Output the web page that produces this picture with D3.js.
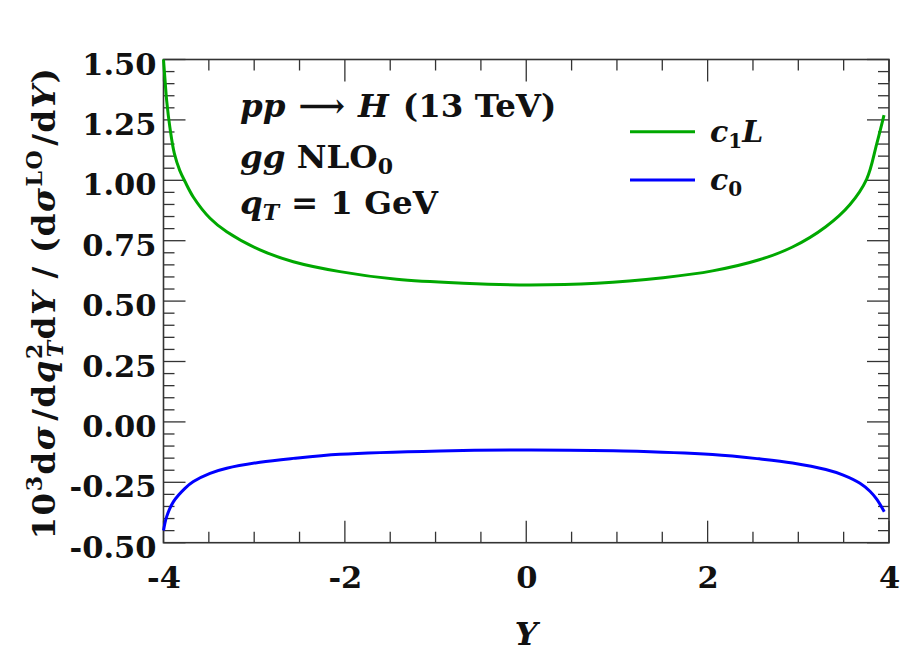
<!DOCTYPE html>
<html><head><meta charset="utf-8">
<script src="https://cdn.jsdelivr.net/npm/d3@7"></script>
<style>html,body{margin:0;padding:0;background:#fff;}svg{display:block;}</style>
</head><body>
<script>
// ---- data ----
const seriesNames = ["c1L", "c0"];
const yC1L = [-4.0, -3.98, -3.965, -3.93, -3.88, -3.82, -3.763, -3.67, -3.487, -3.303, -2.936, -2.569, -2.054, -1.43, -0.694, 0.04, 0.777, 1.51, 2.054, 2.569, 2.936, 3.303, 3.57, 3.754, 3.864, 3.945];
const valC1L = [1.50, 1.40, 1.33, 1.22, 1.11, 1.04, 0.995, 0.93, 0.843, 0.787, 0.712, 0.663, 0.622, 0.590, 0.574, 0.567, 0.574, 0.597, 0.625, 0.671, 0.724, 0.808, 0.900, 1.005, 1.15, 1.27];
const yC0 = [-4.0, -3.965, -3.89, -3.763, -3.67, -3.487, -3.303, -2.936, -2.569, -2.054, -0.951, 0.041, 1.07, 2.054, 2.569, 2.936, 3.303, 3.496, 3.68, 3.79, 3.864, 3.948];
const valC0 = [-0.45, -0.392, -0.330, -0.275, -0.247, -0.213, -0.192, -0.167, -0.151, -0.134, -0.120, -0.116, -0.120, -0.135, -0.153, -0.170, -0.197, -0.220, -0.254, -0.287, -0.320, -0.372];
const xTickValues = [-4, -2, 0, 2, 4];
const xTickLabels = ["-4", "-2", "0", "2", "4"];
const yTickValues = [-0.5, -0.25, 0, 0.25, 0.5, 0.75, 1.0, 1.25, 1.5];
const yTickLabels = ["-0.50", "-0.25", "0.00", "0.25", "0.50", "0.75", "1.00", "1.25", "1.50"];

// ---- layout ----
const W = 900, H = 665;
const m = {left: 163.5, right: 889, top: 59.5, bottom: 542.7};
const FONT = "'DejaVu Serif', serif";
const svg = d3.select("body").append("svg").attr("width", W).attr("height", H);

const x = d3.scaleLinear().domain([-4, 4]).range([m.left, m.right]);
const y = d3.scaleLinear().domain([-0.5, 1.5]).range([m.bottom, m.top]);

const axisColor = "#333";
const majorLen = 22, minorLen = 11;
const minorX = d3.range(-4, 4.001, 0.5);
const minorY = d3.range(-0.5, 1.5001, 0.05);

const ticksG = svg.append("g").attr("stroke", axisColor).attr("stroke-width", 1.3);
minorX.forEach(v => {
  const isMajor = Math.abs(v/2 - Math.round(v/2)) < 1e-6;
  const L = isMajor ? majorLen : minorLen;
  ticksG.append("line").attr("x1", x(v)).attr("x2", x(v)).attr("y1", m.bottom).attr("y2", m.bottom - L);
  ticksG.append("line").attr("x1", x(v)).attr("x2", x(v)).attr("y1", m.top).attr("y2", m.top + L);
});
minorY.forEach(v => {
  const isMajor = Math.abs(v/0.25 - Math.round(v/0.25)) < 1e-6;
  const L = isMajor ? majorLen : minorLen;
  ticksG.append("line").attr("y1", y(v)).attr("y2", y(v)).attr("x1", m.left).attr("x2", m.left + L);
  ticksG.append("line").attr("y1", y(v)).attr("y2", y(v)).attr("x1", m.right).attr("x2", m.right - L);
});

const xAxis = d3.axisBottom(x).tickValues(xTickValues).tickSize(0).tickPadding(24)
  .tickFormat((d, i) => xTickLabels[i]);
const gx = svg.append("g").attr("transform", `translate(0,${m.bottom})`).call(xAxis);
const yAxis = d3.axisLeft(y).tickValues(yTickValues).tickSize(0).tickPadding(7)
  .tickFormat((d, i) => yTickLabels[i]);
const gy = svg.append("g").attr("transform", `translate(${m.left},0)`).call(yAxis);
[gx, gy].forEach(g => {
  g.select(".domain").remove();
  g.selectAll("text").attr("font-family", FONT).attr("font-weight", "bold").attr("font-size", 30.5).attr("fill", "#111");
});
gy.selectAll("text").attr("dy", "0.48em");

svg.append("rect").attr("x", m.left).attr("y", m.top).attr("width", m.right - m.left).attr("height", m.bottom - m.top)
  .attr("fill", "none").attr("stroke", axisColor).attr("stroke-width", 1.6);

const line = d3.line().x(d => x(d[0])).y(d => y(d[1])).curve(d3.curveCatmullRom.alpha(0.5));
const green = "#00a800", blue = "#0000ff";
svg.append("path").datum(yC1L.map((v, i) => [v, valC1L[i]])).attr("d", line)
  .attr("fill", "none").attr("stroke", green).attr("stroke-width", 3);
svg.append("path").datum(yC0.map((v, i) => [v, valC0[i]])).attr("d", line)
  .attr("fill", "none").attr("stroke", blue).attr("stroke-width", 3);

// annotation text
const ann = svg.append("g").attr("font-family", FONT).attr("font-weight", "bold").attr("font-size", 32.5).attr("fill", "#111");
const t1 = ann.append("text").attr("x", 240).attr("y", 117);
t1.append("tspan").attr("font-style", "italic").text("pp");
t1.append("tspan").attr("dx", 13).text("⟶");
t1.append("tspan").attr("dx", 13).attr("font-style", "italic").text("H");
t1.append("tspan").attr("dx", 14).text("(13 TeV)");
const t2 = ann.append("text").attr("x", 240).attr("y", 168);
t2.append("tspan").attr("font-style", "italic").text("gg");
t2.append("tspan").text(" NLO");
t2.append("tspan").attr("font-size", 22).attr("dy", 6).text("0");
const t3 = ann.append("text").attr("x", 240).attr("y", 214);
t3.append("tspan").attr("font-style", "italic").text("q");
t3.append("tspan").attr("font-style", "italic").attr("font-size", 22).attr("dy", 6).text("T");
t3.append("tspan").attr("dy", -6).attr("dx", 12).text("=");
t3.append("tspan").attr("dx", 12).text("1 GeV");

// legend
const legend = [{name: seriesNames[0], color: green, yy: 131.7}, {name: seriesNames[1], color: blue, yy: 180}];
legend.forEach(l => {
  svg.append("line").attr("x1", 630).attr("x2", 695).attr("y1", l.yy).attr("y2", l.yy)
    .attr("stroke", l.color).attr("stroke-width", 3);
});
const lg = svg.append("g").attr("font-family", FONT).attr("font-weight", "bold").attr("font-size", 30).attr("fill", "#111");
const lg1 = lg.append("text").attr("x", 710).attr("y", 142);
lg1.append("tspan").attr("font-style", "italic").text("c");
lg1.append("tspan").attr("font-size", 20).attr("dy", 6).text("1");
lg1.append("tspan").attr("font-style", "italic").attr("dy", -6).text("L");
const lg2 = lg.append("text").attr("x", 710).attr("y", 190);
lg2.append("tspan").attr("font-style", "italic").text("c");
lg2.append("tspan").attr("font-size", 20).attr("dy", 6).text("0");

// axis titles
svg.append("text").attr("x", (m.left + m.right) / 2).attr("y", 645).attr("text-anchor", "middle")
  .attr("font-family", FONT).attr("font-weight", "bold").attr("font-style", "italic").attr("font-size", 32).attr("fill", "#111")
  .text("Y");

const yt = svg.append("text").attr("transform", `translate(55,${(m.top + m.bottom) / 2 + 2}) rotate(-90)`)
  .attr("text-anchor", "middle").attr("font-family", FONT).attr("font-weight", "bold").attr("font-size", 32.5)
  .attr("letter-spacing", 1.5).attr("fill", "#111");
yt.append("tspan").text("10");
yt.append("tspan").attr("font-size", 22).attr("dy", -13).text("3");
yt.append("tspan").attr("dy", 13).text("d");
yt.append("tspan").attr("font-style", "italic").text("σ");
yt.append("tspan").attr("dx", 4).text("/d");
yt.append("tspan").attr("font-style", "italic").text("q");
yt.append("tspan").attr("font-size", 22).attr("dy", -13).text("2");
yt.append("tspan").attr("font-size", 22).attr("font-style", "italic").attr("dx", -15).attr("dy", 21).text("T");
yt.append("tspan").attr("dy", -8).text("d");
yt.append("tspan").attr("font-style", "italic").text("Y");
yt.append("tspan").attr("dx", 12).text("/");
yt.append("tspan").attr("dx", 12).text("(d");
yt.append("tspan").attr("font-style", "italic").text("σ");
yt.append("tspan").attr("font-size", 22).attr("dy", -13).text("LO");
yt.append("tspan").attr("dy", 13).attr("dx", 3).text("/d");
yt.append("tspan").attr("font-style", "italic").text("Y");
yt.append("tspan").text(")");
</script>
</body></html>
